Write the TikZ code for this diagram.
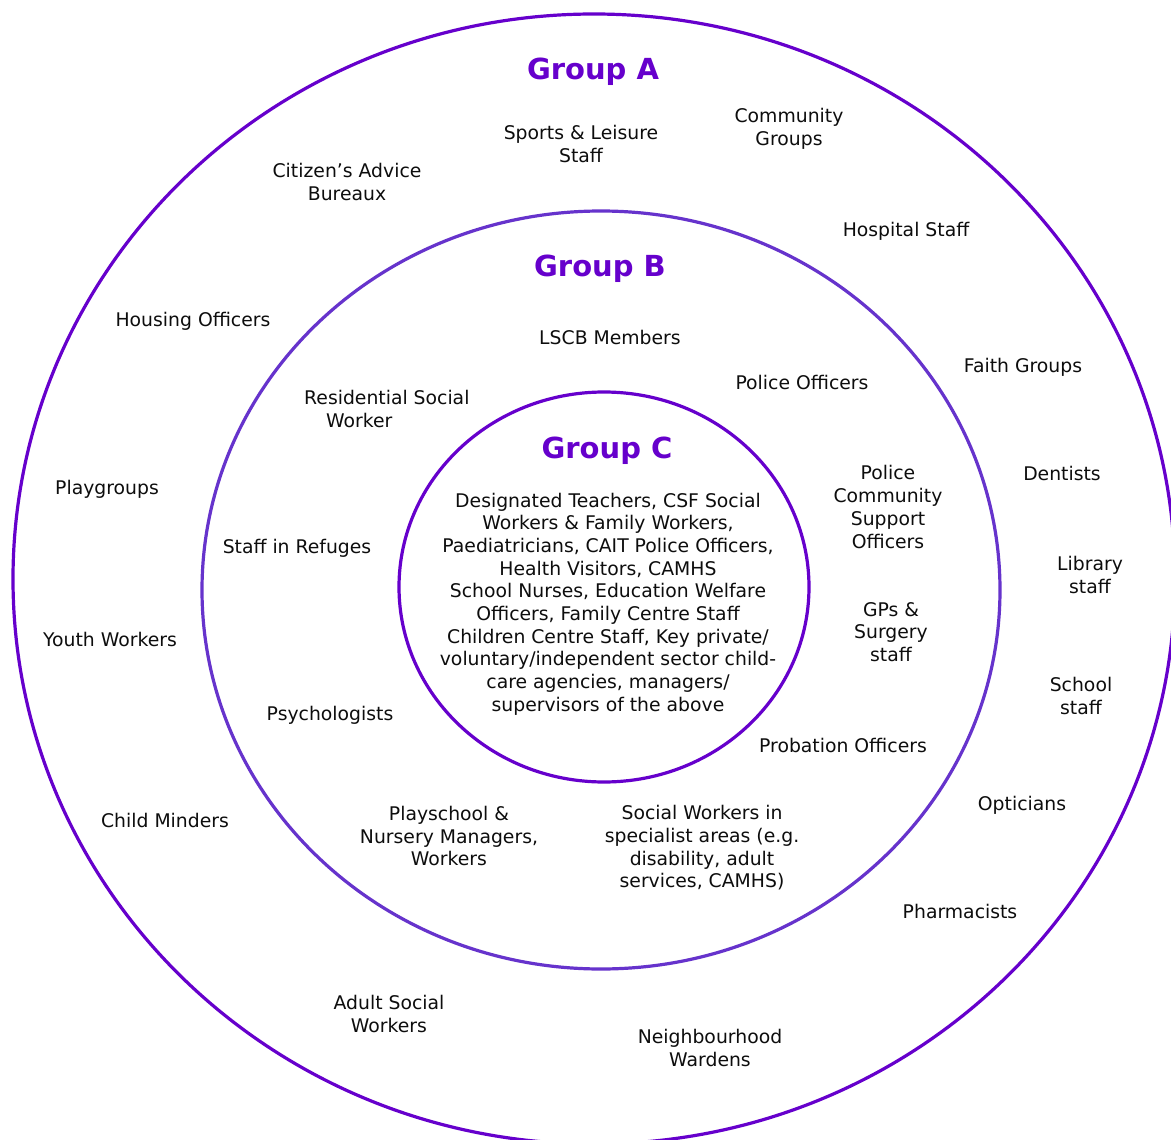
\documentclass[tikz,border=0pt]{standalone}
\usepackage{fontspec}
\setmainfont{DejaVu Sans}
\definecolor{ringA}{HTML}{6600CC}
\definecolor{ringB}{HTML}{6633CC}
\definecolor{ringC}{HTML}{6600CC}
\definecolor{grp}{HTML}{6600CC}
\begin{document}
\begin{tikzpicture}[x=1pt,y=-1pt,
  lbl/.style={inner sep=0pt,align=center,yshift=-2pt,text=black!95,font=\fontsize{18.8}{22.7}\selectfont},
  grouplbl/.style={inner sep=0pt,yshift=-2pt,text=grp,font=\fontsize{29}{34}\selectfont\bfseries},
  ring/.style={line width=3.2pt}]
\useasboundingbox (0,0) rectangle (1171,1140);
\clip (0,0) rectangle (1171,1140);
\fill[white] (0,0) rectangle (1171,1140);
% rings
\draw[ring,ringA] (594,579) ellipse [x radius=581pt, y radius=565pt];
\draw[ring,ringB] (601,590) ellipse [x radius=399pt, y radius=379pt];
\draw[ring,ringC] (604,587) ellipse [x radius=205pt, y radius=195pt];
% group labels
\node[grouplbl] (ga) at (593,70) {Group A};
\node[grouplbl] (gb) at (600,267) {Group B};
\node[grouplbl] (gc) at (607,449) {Group C};
% group A texts
\node[lbl] (sports) at (581,142) {Sports \& Leisure\\Staff};
\node[lbl] (community) at (789,127) {Community\\Groups};
\node[lbl] (citizen) at (347,180) {Citizen’s Advice\\Bureaux};
\node[lbl] (hospital) at (906,229) {Hospital Staff};
\node[lbl] (housing) at (193,319) {Housing Officers};
\node[lbl] (faith) at (1023,365) {Faith Groups};
\node[lbl] (playgroups) at (107,487) {Playgroups};
\node[lbl] (dentists) at (1062,471) {Dentists};
\node[lbl] (library) at (1090,573) {Library\\staff};
\node[lbl] (youth) at (110,637) {Youth Workers};
\node[lbl] (school) at (1081,694) {School\\staff};
\node[lbl] (opticians) at (1022,803) {Opticians};
\node[lbl] (minders) at (165,818) {Child Minders};
\node[lbl] (pharm) at (960,909) {Pharmacists};
\node[lbl] (adultsw) at (389,1012) {Adult Social\\Workers};
\node[lbl] (wardens) at (710,1046) {Neighbourhood\\Wardens};
% group B texts
\node[lbl] (lscb) at (610,335) {LSCB Members};
\node[lbl] (police) at (802,380) {Police Officers};
\node[lbl,align=left,anchor=west] (residential) at (304,407) {Residential Social\\\hspace*{22pt}Worker};
\node[lbl] (pcso) at (888,505) {Police\\Community\\Support\\Officers};
\node[lbl] (refuges) at (297,546) {Staff in Refuges};
\node[lbl] (gps) at (891,630) {GPs \&\\Surgery\\staff};
\node[lbl] (psych) at (330,713) {Psychologists};
\node[lbl] (probation) at (843,743) {Probation Officers};
\node[lbl] (playschool) at (449,834) {Playschool \&\\Nursery Managers,\\Workers};
\node[lbl] (specialist) at (702,846) {Social Workers in\\specialist areas (e.g.\\disability, adult\\services, CAMHS)};
% group C text
\node[lbl] (inner) at (608,602) {Designated Teachers, CSF Social\\Workers \& Family Workers,\\Paediatricians, CAIT Police Officers,\\Health Visitors, CAMHS\\School Nurses, Education Welfare\\Officers, Family Centre Staff\\Children Centre Staff, Key private/\\voluntary/independent sector child-\\care agencies, managers/\\supervisors of the above};
\end{tikzpicture}
\end{document}
